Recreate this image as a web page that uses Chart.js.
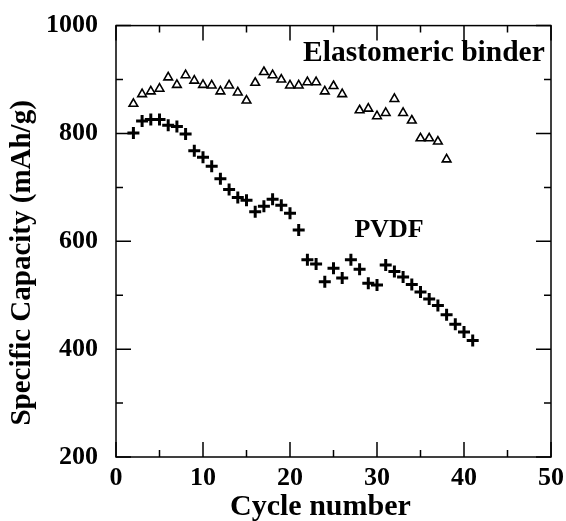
<!DOCTYPE html>
<html>
<head>
<meta charset="utf-8">
<script src="https://cdn.jsdelivr.net/npm/chart.js@4"></script>
<style>
  body { margin: 0; background: #fff; }
  canvas { display: block; }
</style>
</head>
<body>
<canvas id="myChart" width="566" height="521"></canvas>
<script>
// cycle numbers and capacities
const pvdfCycles = [2, 3, 4, 5, 6, 7, 8, 9, 10, 11, 12, 13, 14, 15, 16, 17, 18, 19, 20, 21,
  22, 23, 24, 25, 26, 27, 28, 29, 30, 31, 32, 33, 34, 35, 36, 37, 38, 39, 40, 41];
const pvdfCapacity = [801, 823, 826, 826, 815, 813, 799, 768, 756, 739, 716, 696, 681, 676, 655, 665, 678, 667, 652, 621,
  566, 558, 525, 550, 532, 566, 548, 522, 519, 556, 544, 534, 520, 506, 493, 481, 464, 446, 432, 416];

const elastoCycles = [2, 3, 4, 5, 6, 7, 8, 9, 10, 11, 12, 13, 14, 15, 16, 17, 18, 19, 20, 21,
  22, 23, 24, 25, 26, 28, 29, 30, 31, 32, 33, 34, 35, 36, 37, 38];
const elastoCapacity = [855, 873, 878, 883, 904, 890, 908, 898, 890, 889, 878, 889, 876, 861, 894, 914, 908, 900, 889, 889,
  895, 895, 878, 888, 873, 843, 846, 832, 838, 864, 838, 824, 791, 791, 785, 752];

const xTicks = [0, 10, 20, 30, 40, 50];
const xMinor = [5, 15, 25, 35, 45];
const yTicks = [200, 400, 600, 800, 1000];
const yMinor = [300, 500, 700, 900];

const labels = [
  { text: 'Elastomeric binder', x: 21.5, y: 948, size: 29.5 },
  { text: 'PVDF', x: 27.4, y: 620, size: 26 }
];
const yTitle = 'Specific Capacity (mAh/g)';
const xTitle = 'Cycle number';

const FONT = '"Liberation Serif", "Times New Roman", serif';

function toPoints(xs, ys) {
  const out = [];
  for (var i = 0; i < xs.length; i++) {
    out.push({ x: xs[i], y: ys[i] });
  }
  return out;
}

// box around the plot, inward tick marks, axis titles and the two text labels
const frame = {
  id: 'frame',
  afterDraw(chart) {
    const ctx = chart.ctx;
    const a = chart.chartArea;
    const xs = chart.scales.x;
    const ys = chart.scales.y;
    ctx.save();
    ctx.strokeStyle = '#000';
    ctx.lineWidth = 1.5;
    ctx.strokeRect(a.left, a.top, a.right - a.left, a.bottom - a.top);

    ctx.beginPath();
    xTicks.forEach(v => {
      const p = xs.getPixelForValue(v);
      ctx.moveTo(p, a.bottom); ctx.lineTo(p, a.bottom - 15);
      ctx.moveTo(p, a.top); ctx.lineTo(p, a.top + 15);
    });
    xMinor.forEach(v => {
      const p = xs.getPixelForValue(v);
      ctx.moveTo(p, a.bottom); ctx.lineTo(p, a.bottom - 7);
      ctx.moveTo(p, a.top); ctx.lineTo(p, a.top + 7);
    });
    yTicks.forEach(v => {
      const p = ys.getPixelForValue(v);
      ctx.moveTo(a.left, p); ctx.lineTo(a.left + 15, p);
      ctx.moveTo(a.right, p); ctx.lineTo(a.right - 15, p);
    });
    yMinor.forEach(v => {
      const p = ys.getPixelForValue(v);
      ctx.moveTo(a.left, p); ctx.lineTo(a.left + 7, p);
      ctx.moveTo(a.right, p); ctx.lineTo(a.right - 7, p);
    });
    ctx.stroke();

    ctx.fillStyle = '#000';
    ctx.textAlign = 'left';
    ctx.textBaseline = 'middle';
    labels.forEach(l => {
      ctx.font = 'bold ' + l.size + 'px ' + FONT;
      ctx.fillText(l.text, xs.getPixelForValue(l.x), ys.getPixelForValue(l.y));
    });

    // x title, a bit left of the axis middle in the original
    ctx.textAlign = 'center';
    ctx.font = 'bold 30px ' + FONT;
    ctx.fillText(xTitle, xs.getPixelForValue(23.5), 507);

    // y title, a little below the middle of the axis
    ctx.translate(23, ys.getPixelForValue(560));
    ctx.rotate(-Math.PI / 2);
    ctx.font = 'bold 29px ' + FONT;
    ctx.fillText(yTitle, 0, 0);
    ctx.restore();
  }
};

window.addEventListener('load', setup);

function setup() {
  var ctx = document.getElementById('myChart').getContext('2d');
  new Chart(ctx, {
    type: 'scatter',
    data: {
      datasets: [
        {
          label: 'Elastomeric binder',
          data: toPoints(elastoCycles, elastoCapacity),
          pointStyle: 'triangle',
          pointRadius: 5,
          borderColor: '#000',
          backgroundColor: '#fff',
          borderWidth: 1.6
        },
        {
          label: 'PVDF',
          data: toPoints(pvdfCycles, pvdfCapacity),
          pointStyle: 'cross',
          pointRadius: 6,
          borderColor: '#000',
          backgroundColor: '#000',
          borderWidth: 3
        }
      ]
    },
    options: {
      responsive: false,
      animation: false,
      devicePixelRatio: 1,
      layout: { padding: { top: 22, right: 15, left: 0, bottom: 0 } },
      plugins: { legend: { display: false }, tooltip: { enabled: false } },
      scales: {
        x: {
          type: 'linear',
          min: 0, max: 50,
          grid: { display: false },
          border: { display: false },
          ticks: { stepSize: 10, color: '#000', padding: -2, maxRotation: 0,
                   font: { family: FONT, size: 26, weight: 'bold' } },
          afterFit: function (scale) { scale.height = 64; }
        },
        y: {
          min: 200, max: 1000,
          grid: { display: false },
          border: { display: false },
          ticks: { stepSize: 200, color: '#000', padding: 10,
                   callback: function (v) { return String(v); },
                   font: { family: FONT, size: 26, weight: 'bold' } },
          afterFit: function (scale) { scale.width = 116; }
        }
      }
    },
    plugins: [frame]
  });
}
</script>
</body>
</html>
